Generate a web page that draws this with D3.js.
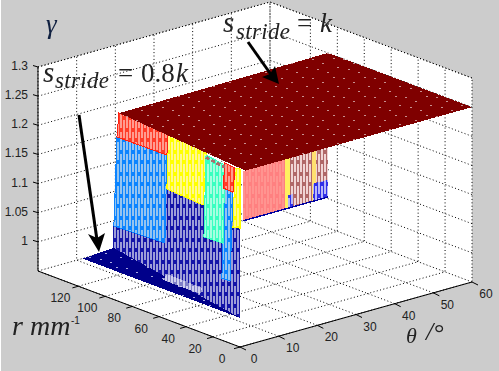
<!DOCTYPE html>
<html>
<head>
<meta charset="utf-8">
<script src="https://cdnjs.cloudflare.com/ajax/libs/d3/7.8.5/d3.min.js"></script>
<style>
html, body { margin: 0; padding: 0; background: #fff; overflow: hidden; }
svg { display: block; }
.tick { font: 12px "Liberation Sans", Arial, sans-serif; fill: #222; }
.math { font-family: "Liberation Serif", serif; font-style: italic; fill: #222; filter: blur(0.35px); }
</style>
</head>
<body>
<div id="chart"></div>
<script>
const thetaTicks = [0, 10, 20, 30, 40, 50, 60];
const rTicks = [0, 20, 40, 60, 80, 100, 120];
const zTicks = [1, 1.05, 1.1, 1.15, 1.2, 1.25, 1.3];
const zTickLabels = ["1", "1.05", "1.1", "1.15", "1.2", "1.25", "1.3"];

// top plane and bottom plane, [theta, r, gamma]
const topPlane = [[1.4, 0, 1.25], [60, 0, 1.25], [60, 107, 1.25], [5.3, 105, 1.25]];
const bottomPlane = [[0, 0, 1], [0, 117, 1], [8.8, 119, 1]];

// slanted wall under the left edge of the top plane, [r, gamma]
const wallBase = [[120, 1], [0, 1], [0, 1.16], [16, 1.21], [35, 1.17], [69, 1.16], [119, 1.05]];
const wallRed = [[114.2, 1.2366], [67.9, 1.247], [68.9, 1.21], [116, 1.1935]];
const wallBlue = [[116, 1.1935], [68.9, 1.21], [70.8, 1.057], [118.9, 1.038]];
const wallYellow = [[67.9, 1.247], [31.1, 1.2532], [34.9, 1.1585], [68.9, 1.1518]];
const wallAqua = [[32, 1.247], [14.2, 1.248], [16, 1.112], [34, 1.1044]];
const wallRed2 = [[14.2, 1.2515], [4.7, 1.2524], [6.6, 1.209], [16, 1.2067]];
const wallBlue2 = [[16, 1.2067], [6.6, 1.209], [9.4, 1.0538], [17, 1.051]];
const wallYellow2 = [[4.7, 1.2524], [0, 1.2554], [0, 1.154], [6.6, 1.149]];
const wallPale = [[72.6, 0.992], [68.9, 1.006], [35.8, 1.015], [37.7, 1.003]];

// wall along r = 0, [theta from, theta to, gamma from, gamma to]
const frontSalmon = [0.8, 11.6, 1.165, 1.25];
const frontYellow = [11.6, 12.9, 1.165, 1.25];
const frontBrown = [12.9, 18.6, 1.165, 1.25];
const frontYellow2 = [18.6, 19.7, 1.165, 1.25];
const frontBrown2 = [19.7, 22.8, 1.165, 1.25];
const frontBlue = [12.4, 13.6, 1.165, 1.187];
const frontBlue2 = [19, 22.8, 1.165, 1.195];

const width = 499, height = 371;
const thetaMax = 60, rMax = 150, zMin = 0.95, zMax = 1.3;

const thetaX = d3.scaleLinear().domain([0, thetaMax]).range([0, 232]);
const thetaY = d3.scaleLinear().domain([0, thetaMax]).range([0, 65]);
const rX = d3.scaleLinear().domain([0, rMax]).range([0, 202]);
const rY = d3.scaleLinear().domain([0, rMax]).range([0, 76]);
const zY = d3.scaleLinear().domain([zMin, zMax]).range([0, 204]);

const originX = 240, originY = 347;

function project(theta, r, z) {
    return [
        originX + thetaX(theta) - rX(r),
        originY - thetaY(theta) - rY(r) - zY(z)
    ];
}
const wallTheta = r => r * 8.8 / 119;
const wallPoint = d => project(wallTheta(d[0]), d[0], d[1]);
const line = d3.line();
const closed = pts => line(pts) + "Z";

const svg = d3.select("#chart").append("svg")
    .attr("width", width)
    .attr("height", height);

svg.append("rect")
    .attr("x", 1).attr("y", 0)
    .attr("width", width).attr("height", height)
    .attr("fill", "#cccccc");

const defs = svg.append("defs");

function hatch(id, base, light) {
    const p = defs.append("pattern")
        .attr("id", id)
        .attr("patternUnits", "userSpaceOnUse")
        .attr("width", 6).attr("height", 22);
    p.append("rect").attr("width", 6).attr("height", 22).attr("fill", base);
    p.append("rect").attr("x", 0).attr("y", 0).attr("width", 2).attr("height", 18).attr("fill", light);
    p.append("rect").attr("x", 3).attr("y", 10).attr("width", 2).attr("height", 12).attr("fill", light);
    p.append("rect").attr("x", 3).attr("y", 0).attr("width", 2).attr("height", 6).attr("fill", light);
}
hatch("h-red", "#ff3c28", "#ff9c90");
hatch("h-blue", "#0c84ff", "#94c4f0");
hatch("h-yellow", "#ffff00", "#fff890");
hatch("h-aqua", "#38ffc0", "#a4ffe0");
hatch("h-navy", "#1414a8", "#9c9cd8");
hatch("h-pale", "#8080c8", "#d0d0ee");
hatch("h-salmon", "#ff8080", "#ff9490");
hatch("h-brown", "#b06868", "#f0d4d4");
hatch("h-fblue", "#3030e8", "#b8b8f8");

// sparse light specks on the planes, pixel aligned so they stay crisp
function specks(id, base, speck) {
    const p = defs.append("pattern")
        .attr("id", id)
        .attr("patternUnits", "userSpaceOnUse")
        .attr("width", 31).attr("height", 19);
    p.append("rect").attr("width", 31).attr("height", 19).attr("fill", base);
    [[2, 2], [12, 6], [23, 1], [7, 12], [17, 15], [27, 10]].forEach(s => {
        p.append("rect")
            .attr("x", s[0]).attr("y", s[1])
            .attr("width", 2).attr("height", 1)
            .attr("fill", speck);
    });
}
specks("s-maroon", "#7f0000", "#c89090");
specks("s-navy", "#00008a", "#a8a8e0");

// white walls and floor
const floor = [[0, 0, zMin], [thetaMax, 0, zMin], [thetaMax, rMax, zMin], [0, rMax, zMin]];
const backWall = [[0, rMax, zMin], [thetaMax, rMax, zMin], [thetaMax, rMax, zMax], [0, rMax, zMax]];
const sideWall = [[thetaMax, 0, zMin], [thetaMax, rMax, zMin], [thetaMax, rMax, zMax], [thetaMax, 0, zMax]];

const walls = svg.append("g");
[floor, backWall, sideWall].forEach(w => {
    walls.append("path")
        .attr("d", closed(w.map(d => project(d[0], d[1], d[2]))))
        .attr("fill", "#fff");
});

// dotted grid
const grid = svg.append("g")
    .attr("fill", "none")
    .attr("stroke", "#000")
    .attr("stroke-width", 1)
    .attr("stroke-dasharray", "1 2.4");

function gridPath(pts) {
    grid.append("path").attr("d", line(pts.map(d => project(d[0], d[1], d[2]))));
}
zTicks.forEach(z => {
    gridPath([[0, rMax, z], [thetaMax, rMax, z], [thetaMax, 0, z]]);
});
thetaTicks.forEach(t => {
    gridPath([[t, 0, zMin], [t, rMax, zMin], [t, rMax, zMax]]);
});
rTicks.concat([rMax]).forEach(r => {
    gridPath([[0, r, zMin], [thetaMax, r, zMin], [thetaMax, r, zMax]]);
});
grid.append("path")
    .attr("d", line([project(0, rMax, zMax), project(thetaMax, rMax, zMax), project(thetaMax, 0, zMax)]));

// axes
const axes = svg.append("g").attr("stroke", "#000").attr("fill", "none").attr("stroke-width", 1);
axes.append("path").attr("d", line([project(0, rMax, zMax), project(0, rMax, zMin), project(0, 0, zMin), project(thetaMax, 0, zMin)]));

zTicks.forEach((z, i) => {
    const p = project(0, rMax, z);
    axes.append("line")
        .attr("x1", p[0]).attr("y1", p[1])
        .attr("x2", p[0] - 5).attr("y2", p[1] - 1.5);
    svg.append("text").attr("class", "tick")
        .attr("x", 28).attr("y", p[1] + 3)
        .attr("text-anchor", "end")
        .text(zTickLabels[i]);
});
rTicks.forEach(r => {
    const p = project(0, r, zMin);
    axes.append("line")
        .attr("x1", p[0]).attr("y1", p[1])
        .attr("x2", p[0] - 6).attr("y2", p[1] + 1.7);
    svg.append("text").attr("class", "tick")
        .attr("x", p[0] - 18).attr("y", p[1] + 16)
        .attr("text-anchor", "middle")
        .text(r);
});
thetaTicks.forEach(t => {
    const p = project(t, 0, zMin);
    axes.append("line")
        .attr("x1", p[0]).attr("y1", p[1])
        .attr("x2", p[0] + 6).attr("y2", p[1] + 3);
    svg.append("text").attr("class", "tick")
        .attr("x", p[0] + 14).attr("y", p[1] + 16)
        .attr("text-anchor", "middle")
        .text(t);
});

// surfaces
const surface = svg.append("g").attr("shape-rendering", "crispEdges");

surface.append("path")
    .attr("d", closed(bottomPlane.map(d => project(d[0], d[1], d[2]))))
    .attr("fill", "url(#s-navy)");

function frontPatch(d, fill) {
    surface.append("path")
        .attr("d", closed([
            project(d[0], 0, d[2]), project(d[1], 0, d[2]),
            project(d[1], 0, d[3]), project(d[0], 0, d[3])
        ]))
        .attr("fill", fill);
}
frontPatch(frontSalmon, "url(#h-salmon)");
frontPatch(frontYellow, "#fff060");
frontPatch(frontBrown, "url(#h-brown)");
frontPatch(frontYellow2, "#ffe070");
frontPatch(frontBrown2, "url(#h-brown)");
frontPatch(frontBlue, "url(#h-fblue)");
frontPatch(frontBlue2, "url(#h-fblue)");
surface.append("path")
    .attr("d", line([project(frontSalmon[0], 0, frontSalmon[2]), project(frontBrown2[1], 0, frontSalmon[2])]))
    .attr("fill", "none").attr("stroke", "#0000a0").attr("stroke-width", 1.4);

function wallPatch(pts, fill, edge) {
    const s = surface.append("path")
        .attr("d", closed(pts.map(wallPoint)))
        .attr("fill", fill);
    if (edge) s.attr("stroke", edge).attr("stroke-width", 1);
}
wallPatch(wallBase, "url(#h-navy)");
wallPatch(wallPale, "url(#h-pale)");
wallPatch(wallBlue, "url(#h-blue)", "#0c84ff");
wallPatch(wallBlue2, "url(#h-blue)", "#0c84ff");
wallPatch(wallYellow, "url(#h-yellow)", "#ffff00");
wallPatch(wallYellow2, "url(#h-yellow)", "#ffff00");
wallPatch(wallAqua, "url(#h-aqua)", "#38ffc0");
wallPatch(wallRed, "url(#h-red)", "#ff2010");
wallPatch(wallRed2, "url(#h-red)", "#ff2010");

surface.append("path")
    .attr("d", closed(topPlane.map(d => project(d[0], d[1], d[2]))))
    .attr("fill", "url(#s-maroon)");

// speckled seam at the top of the aqua patch
surface.append("path")
    .attr("d", line([wallPoint([32, 1.243]), wallPoint([14.2, 1.244])]))
    .attr("fill", "none")
    .attr("stroke", "#a87070")
    .attr("stroke-width", 3)
    .attr("stroke-dasharray", "4 2");

// arrows
const arrows = svg.append("g");
arrows.append("path").attr("d", "M79,115L97,240").attr("stroke", "#000").attr("stroke-width", 3).attr("fill", "none");
arrows.append("path").attr("d", "M99,252L88,234L97,238L105,233Z").attr("fill", "#000");
arrows.append("path").attr("d", "M248,42L272,76").attr("stroke", "#000").attr("stroke-width", 3).attr("fill", "none");
arrows.append("path").attr("d", "M279,84L262,77L270,74L275,66Z").attr("fill", "#000");

// math labels
function mathText(x, y, size, str) {
    return svg.append("text").attr("class", "math")
        .attr("x", x).attr("y", y)
        .attr("font-size", size)
        .text(str);
}
mathText(46, 33, 27, "γ").style("fill", "#102040");

mathText(43, 82, 29, "s");
mathText(55, 88, 23, "stride").attr("letter-spacing", 0.3);
mathText(118, 82, 27, "=").style("font-style", "normal");
mathText(141, 82, 27, "0.8").style("font-style", "normal");
mathText(176, 82, 27, "k");

mathText(223, 32, 29, "s");
mathText(236, 39, 23, "stride").attr("letter-spacing", 0.3);
mathText(297, 32, 27, "=").style("font-style", "normal");
mathText(320, 32, 27, "k");

mathText(12, 335, 28, "r");
mathText(30, 335, 28, "mm");
svg.append("text").attr("class", "tick").attr("x", 71).attr("y", 324).style("font-size", "10px").text("-1");

mathText(406, 343, 22, "θ");
mathText(426, 340, 26, "/");
mathText(434, 341, 26, "°").style("font-style", "normal");
</script>
</body>
</html>
